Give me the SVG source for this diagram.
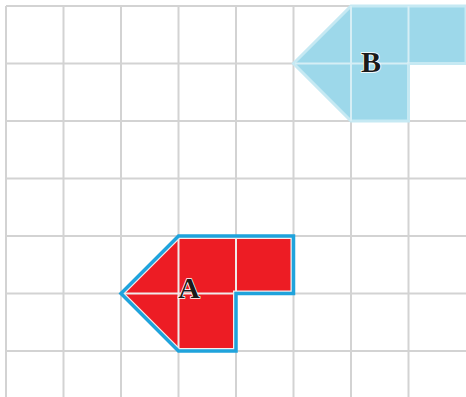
<svg xmlns="http://www.w3.org/2000/svg" width="466" height="397" viewBox="0 0 466 397">
<style>
.grid line{stroke:#d3d3d3;stroke-width:2}
.inner{stroke:#f0eaea;stroke-width:2;fill:none}
.innerB{stroke:#d6eef5;stroke-width:2;fill:none}
.lbl{font-family:"Liberation Serif","Times New Roman",serif;font-weight:bold;font-size:30px;fill:#1a1a1a;stroke:#ffffff;stroke-width:1.5;paint-order:stroke;text-anchor:middle}
</style>
<defs>
<polygon id="polyA" points="121,293.5 178.5,236 293.5,236 293.5,293.5 236,293.5 236,351 178.5,351"/>
<clipPath id="clipA"><use href="#polyA"/></clipPath>
</defs>
<rect width="466" height="397" fill="#ffffff"/>
<g class="grid">
<line x1="6" y1="6" x2="6" y2="397"/>
<line x1="63.5" y1="6" x2="63.5" y2="397"/>
<line x1="121" y1="6" x2="121" y2="397"/>
<line x1="178.5" y1="6" x2="178.5" y2="397"/>
<line x1="236" y1="6" x2="236" y2="397"/>
<line x1="293.5" y1="6" x2="293.5" y2="397"/>
<line x1="351" y1="6" x2="351" y2="397"/>
<line x1="408.5" y1="6" x2="408.5" y2="397"/>
<line x1="6" y1="6" x2="466" y2="6"/>
<line x1="6" y1="63.5" x2="466" y2="63.5"/>
<line x1="6" y1="121" x2="466" y2="121"/>
<line x1="6" y1="178.5" x2="466" y2="178.5"/>
<line x1="6" y1="236" x2="466" y2="236"/>
<line x1="6" y1="293.5" x2="466" y2="293.5"/>
<line x1="6" y1="351" x2="466" y2="351"/>
</g>
<g id="shapeB">
<polygon points="293.5,63.5 351,6 466,6 466,63.5 408.5,63.5 408.5,121 351,121" fill="#9dd8ea" stroke="#c6e9f3" stroke-width="3" stroke-linejoin="miter"/>
<path class="innerB" d="M295,63.5H408.5M351,6V121M408.5,6V63.5"/>
<text class="lbl" x="371" y="72">B</text>
</g>
<g id="shapeA">
<use href="#polyA" fill="#ed1c24"/>
<use href="#polyA" fill="none" stroke="#f4eeee" stroke-width="6" clip-path="url(#clipA)"/>
<path class="inner" d="M123,293.5H236M178.5,237.5V349.5M236,237.5V293.5"/>
<use href="#polyA" fill="none" stroke="#1fa3dc" stroke-width="3.5" stroke-linejoin="miter"/>
<text class="lbl" x="189" y="298">A</text>
</g>
</svg>
